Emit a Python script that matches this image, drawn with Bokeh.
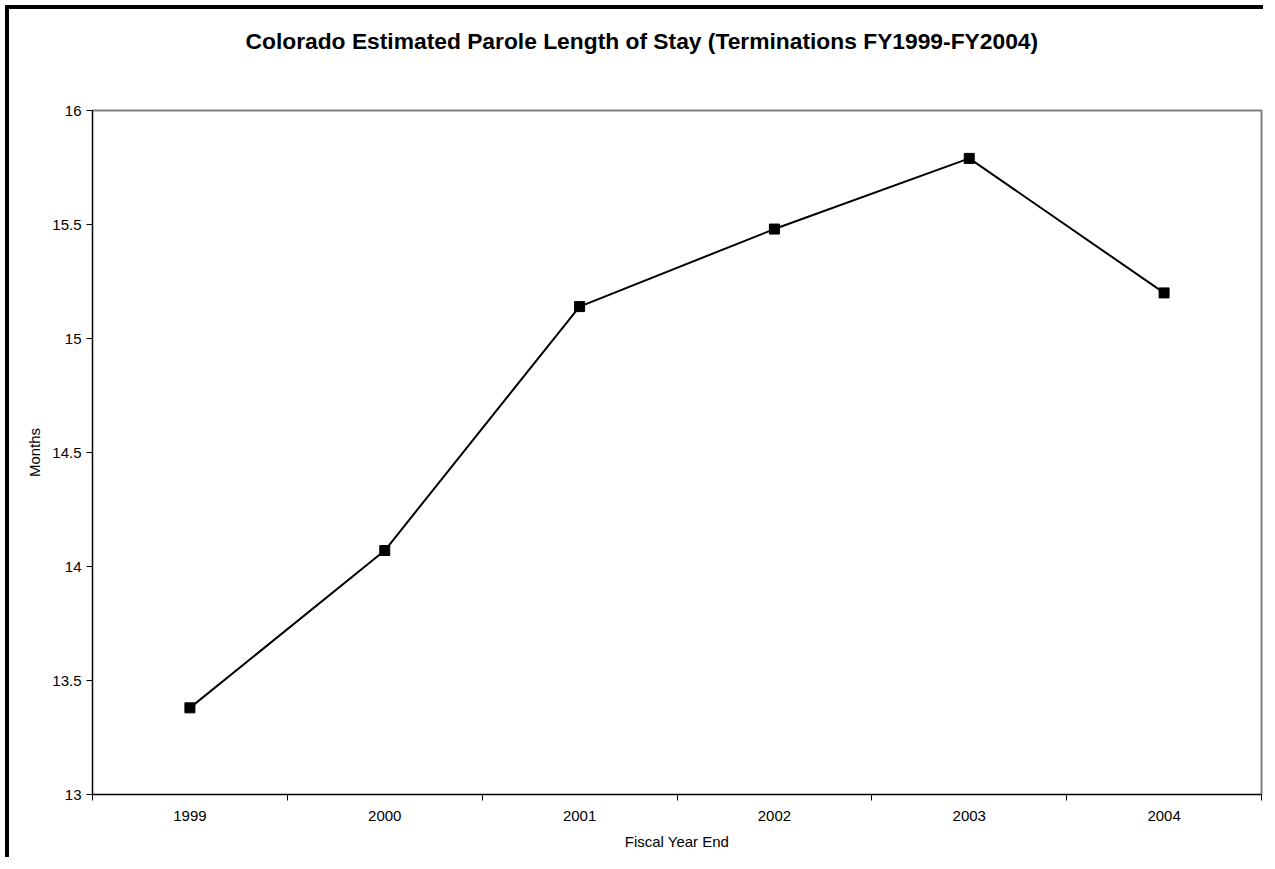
from bokeh.plotting import figure
from bokeh.models import FixedTicker, NumeralTickFormatter, Range1d, Title
from bokeh.embed import file_html
from bokeh.resources import INLINE

years = ["1999", "2000", "2001", "2002", "2003", "2004"]
months = [13.38, 14.07, 15.14, 15.48, 15.79, 15.20]
y_ticks = [13, 13.5, 14, 14.5, 15, 15.5, 16]

FONT = "Liberation Sans"

xs = [i + 0.5 for i in range(len(years))]

p = figure(width=1258, height=852, output_backend="svg", toolbar_location=None,
           x_range=Range1d(0, len(years)), y_range=Range1d(13, 16),
           min_border_left=83, min_border_top=101, min_border_right=6, min_border_bottom=67)
p.styles = {"border-top": "4px solid black", "border-left": "4px solid black",
            "margin-top": "5px", "margin-left": "5px"}

# spacer between the frame and the title
spacer = Title(text=" ", text_font=FONT, text_font_size="1px", standoff=54)
p.add_layout(spacer, "above")
title = Title(text="Colorado Estimated Parole Length of Stay (Terminations FY1999-FY2004)",
              text_font=FONT, text_font_size="22.8px", text_font_style="bold",
              text_color="black", align="left", offset=153, standoff=0)
p.add_layout(title, "above")

p.line(xs, months, line_color="black", line_width=2)
p.scatter(xs, months, marker="square", size=10, fill_color="black", line_color="black")

p.xgrid.visible = False
p.ygrid.visible = False
p.outline_line_color = "#808080"
p.outline_line_width = 2
p.background_fill_color = "white"
p.border_fill_color = "white"

xa = p.xaxis[0]
xa.ticker = FixedTicker(ticks=xs, minor_ticks=list(range(len(years) + 1)))
xa.major_label_overrides = {x: y for x, y in zip(xs, years)}
xa.major_tick_out = 0
xa.major_tick_in = 0
xa.minor_tick_out = 6
xa.minor_tick_in = 0
xa.minor_tick_line_color = "black"
xa.axis_line_color = "black"
xa.major_label_text_font = FONT
xa.major_label_text_font_size = "15px"
xa.major_label_text_color = "black"
xa.major_label_standoff = 10
xa.axis_label = "Fiscal Year End"
xa.axis_label_text_font = FONT
xa.axis_label_text_font_size = "15px"
xa.axis_label_text_font_style = "normal"
xa.axis_label_text_color = "black"
xa.axis_label_standoff = 9

ya = p.yaxis[0]
ya.ticker = FixedTicker(ticks=y_ticks)
ya.formatter = NumeralTickFormatter(format="0.[0]")
ya.major_tick_out = 6
ya.major_tick_in = 0
ya.minor_tick_line_color = None
ya.major_tick_line_color = "black"
ya.axis_line_color = "black"
ya.major_label_text_font = FONT
ya.major_label_text_font_size = "15px"
ya.major_label_text_color = "black"
ya.major_label_standoff = 5
ya.axis_label = "Months"
ya.axis_label_text_font = FONT
ya.axis_label_text_font_size = "15px"
ya.axis_label_text_font_style = "normal"
ya.axis_label_text_color = "black"
ya.axis_label_standoff = 6

open("out.html", "w").write(file_html(p, INLINE))
